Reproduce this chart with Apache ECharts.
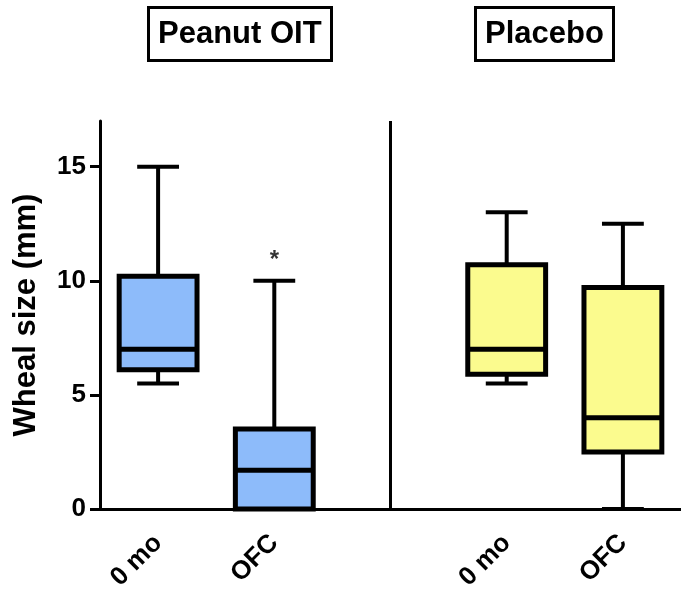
<!DOCTYPE html>
<html lang="en">
<head>
  <meta charset="UTF-8">
  <title>Wheal size</title>
  <style>
    html, body { margin: 0; padding: 0; background: #fff; }
    #chart { width: 681px; height: 597px; }
  </style>
  <script src="https://cdn.jsdelivr.net/npm/echarts@6/dist/echarts.min.js"></script>
</head>
<body>
  <div id="chart"></div>
  <script>
    // slot 2 is the empty gap between the two panels
    const xLabels = ['0 mo', 'OFC', '', '0 mo', 'OFC'];
    const groupTitles = ['Peanut OIT', 'Placebo'];
    const yTicks = [0, 5, 10, 15];

    // [slot, min, q1, median, q3, max]
    const peanutBoxes = [
      [0, 5.5, 6.1, 7.0, 10.2, 15.0],
      [1, 0.0, 0.0, 1.7, 3.5, 10.0]
    ];
    const placeboBoxes = [
      [3, 5.5, 5.9, 7.0, 10.7, 13.0],
      [4, 0.0, 2.5, 4.0, 9.7, 12.5]
    ];
    const starMarks = [[1, 10.9]];

    const font = '"Liberation Sans", Arial, sans-serif';

    function boxItem(params, api) {
      const x = api.value(0);
      const band = api.size([1, 0])[0];
      const half = band * 0.335;
      const cap = band * 0.18;
      const p = i => api.coord([x, api.value(i)]);
      const lo = p(1), q1 = p(2), med = p(3), q3 = p(4), hi = p(5);
      const cx = lo[0];
      const line = { stroke: '#000', lineWidth: 4 };
      return {
        type: 'group',
        children: [
          { type: 'line', shape: { x1: cx, y1: hi[1], x2: cx, y2: q3[1] }, style: line },
          { type: 'line', shape: { x1: cx, y1: q1[1], x2: cx, y2: lo[1] }, style: line },
          { type: 'line', shape: { x1: cx - cap, y1: hi[1], x2: cx + cap, y2: hi[1] }, style: line },
          { type: 'line', shape: { x1: cx - cap, y1: lo[1], x2: cx + cap, y2: lo[1] }, style: line },
          {
            type: 'rect',
            shape: { x: cx - half, y: q3[1], width: half * 2, height: q1[1] - q3[1] },
            style: { fill: api.visual('color'), stroke: '#000', lineWidth: 5 }
          },
          { type: 'line', shape: { x1: cx - half, y1: med[1], x2: cx + half, y2: med[1] }, style: { stroke: '#000', lineWidth: 5 } }
        ]
      };
    }

    const titleStyle = { fontFamily: font, fontSize: 31, fontWeight: 'bold', color: '#000' };

    const chart = echarts.init(document.getElementById('chart'));
    chart.setOption({
      animation: false,
      title: [
        {
          text: groupTitles[0], left: 148, top: 7,
          padding: [12, 10, 11, 10], borderColor: '#000', borderWidth: 3,
          textStyle: titleStyle
        },
        {
          text: groupTitles[1], left: 475, top: 7,
          padding: [12, 10, 11, 10], borderColor: '#000', borderWidth: 3,
          textStyle: titleStyle
        }
      ],
      grid: { left: 100, right: 0, top: 121, bottom: 88 },
      xAxis: {
        type: 'category',
        data: xLabels,
        boundaryGap: true,
        axisLine: { lineStyle: { color: '#000', width: 3 } },
        axisTick: {
          alignWithLabel: true, length: 12,
          interval: i => i !== 2,
          lineStyle: { color: '#000', width: 3 }
        },
        axisLabel: {
          rotate: 45, margin: 30, color: '#000',
          fontFamily: font, fontSize: 26, fontWeight: 'bold', interval: 0
        }
      },
      yAxis: {
        type: 'value',
        min: 0, max: 17,
        name: 'Wheal size (mm)',
        nameLocation: 'middle',
        nameGap: 58,
        nameTextStyle: { fontFamily: font, fontSize: 31, fontWeight: 'bold', color: '#000' },
        splitLine: { show: false },
        axisLine: { show: true, lineStyle: { color: '#000', width: 3 } },
        axisTick: { show: true, length: 10, customValues: yTicks, lineStyle: { color: '#000', width: 3 } },
        axisLabel: {
          margin: 14, color: '#000', customValues: yTicks,
          fontFamily: font, fontSize: 26, fontWeight: 'bold'
        }
      },
      series: [
        {
          type: 'custom', name: groupTitles[0],
          renderItem: boxItem,
          itemStyle: { color: '#8DBBFA' },
          encode: { x: 0, y: [1, 2, 3, 4, 5] },
          data: peanutBoxes,
          markLine: {
            silent: true, symbol: 'none',
            label: { show: false },
            lineStyle: { color: '#000', width: 3, type: 'solid' },
            data: [{ xAxis: 2 }]
          }
        },
        {
          type: 'custom', name: groupTitles[1],
          renderItem: boxItem,
          itemStyle: { color: '#FBFB8E' },
          encode: { x: 0, y: [1, 2, 3, 4, 5] },
          data: placeboBoxes
        },
        {
          type: 'scatter',
          symbolSize: 0,
          data: starMarks,
          label: {
            show: true, position: 'inside', formatter: '*',
            color: '#000', fontFamily: font, fontSize: 24, fontWeight: 'bold'
          }
        }
      ]
    });
  </script>
</body>
</html>
